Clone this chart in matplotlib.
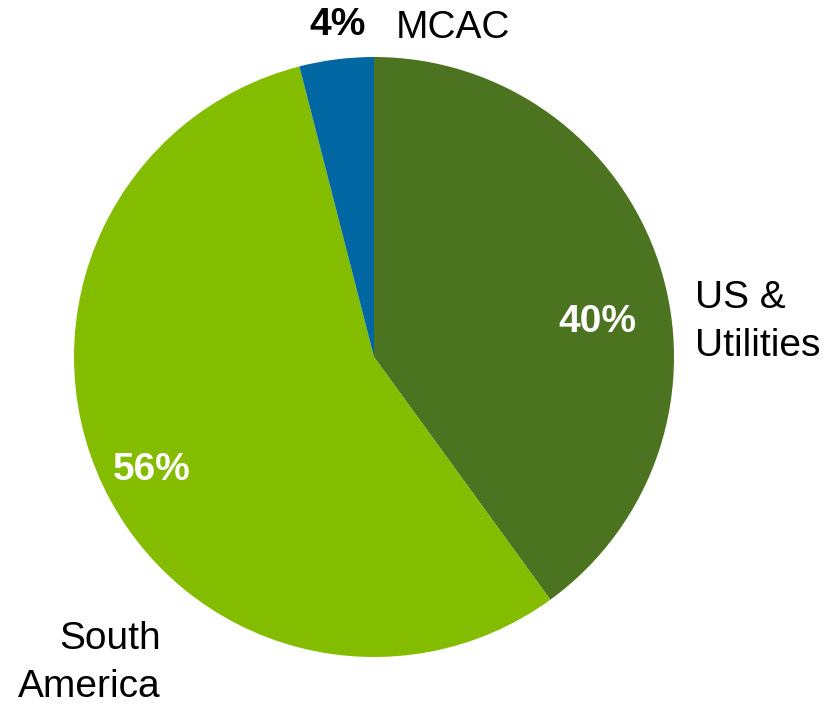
import matplotlib.pyplot as plt

plt.rcParams['font.family'] = ['Liberation Sans', 'DejaVu Sans']

regions = ['US &\nUtilities', 'South\nAmerica', 'MCAC']
shares = [40, 56, 4]
colors = ['#4C7320', '#84BC00', '#0067A2']

W, H = 840, 705
fig = plt.figure(figsize=(W / 100, H / 100), dpi=100)
ax = fig.add_axes([0, 0, 1, 1])

cx, cy, r = 374, H - 357, 300
ax.pie(shares, colors=colors, startangle=90, counterclock=False,
       center=(cx, cy), radius=r, frame=True,
       wedgeprops=dict(linewidth=0))
ax.set_xlim(0, W)
ax.set_ylim(0, H)
ax.set_aspect('equal')
ax.axis('off')

fs = 28
# percent labels
ax.text(597, H - 322, f'{shares[0]}%', color='white', fontsize=fs, fontweight='bold',
        ha='center', va='center')
ax.text(152, H - 470, f'{shares[1]}%', color='white', fontsize=fs, fontweight='bold',
        ha='center', va='center')
ax.text(338, H - 25, f'{shares[2]}%', color='black', fontsize=fs, fontweight='bold',
        ha='center', va='center')

# category labels
ax.text(695, H - 322, regions[0], fontsize=fs, ha='left', va='center', linespacing=1.4)
ax.text(161, H - 663, regions[1], fontsize=fs, ha='right', va='center', linespacing=1.4)
ax.text(453, H - 28, regions[2], fontsize=fs, ha='center', va='center')

fig.savefig('out.png', dpi=100)
